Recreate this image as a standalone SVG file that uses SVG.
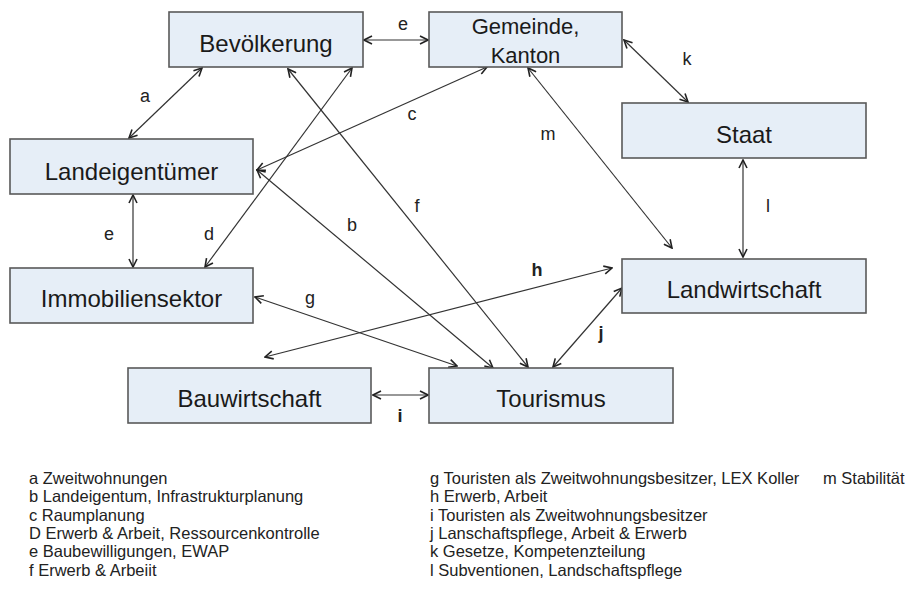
<svg xmlns="http://www.w3.org/2000/svg" width="918" height="596" viewBox="0 0 918 596">
<style>
.box{fill:#e6eef7;stroke:#595959;stroke-width:1.6}
.bt{font-family:"Liberation Sans",Arial,sans-serif;font-size:24px;fill:#1a1a1a;text-anchor:middle}
.gt{font-family:"Liberation Sans",Arial,sans-serif;font-size:22px;fill:#1a1a1a;text-anchor:middle}
.cn{stroke:#333;stroke-width:1.2;fill:none;marker-start:url(#ah);marker-end:url(#ah)}
.lb{font-family:"Liberation Sans",Arial,sans-serif;font-size:18px;fill:#222;text-anchor:middle}
.lbb{font-family:"Liberation Sans",Arial,sans-serif;font-size:18px;fill:#222;text-anchor:middle;font-weight:bold}
.lg{font-family:"Liberation Sans",Arial,sans-serif;font-size:16.5px;fill:#222}
</style>
<defs>
<marker id="ah" viewBox="0 0 10 10" refX="9" refY="5" markerWidth="10" markerHeight="10" orient="auto-start-reverse" markerUnits="userSpaceOnUse">
<path d="M1,1 L9,5 L1,9" fill="none" stroke="#222" stroke-width="1.6"/>
</marker>
</defs>
<rect width="918" height="596" fill="#fff"/>
<g id="connectors">
<line class="cn" x1="364" y1="40" x2="428" y2="40"/>
<line class="cn" x1="202" y1="68" x2="129" y2="138"/>
<line class="cn" x1="288" y1="69" x2="528" y2="367"/>
<line class="cn" x1="352" y1="68" x2="205" y2="267"/>
<line class="cn" x1="487" y1="67" x2="257" y2="170"/>
<line class="cn" x1="257" y1="170" x2="493" y2="368"/>
<line class="cn" x1="255" y1="297" x2="457" y2="366"/>
<line class="cn" x1="612" y1="268" x2="265" y2="357"/>
<line class="cn" x1="373" y1="395" x2="428" y2="395"/>
<line class="cn" x1="553" y1="367" x2="622" y2="288"/>
<line class="cn" x1="624" y1="40" x2="688" y2="102"/>
<line class="cn" x1="743" y1="160" x2="743" y2="257"/>
<line class="cn" x1="528" y1="68" x2="672" y2="248"/>
<line class="cn" x1="133" y1="195" x2="133" y2="267"/>
<text class="lb" x="403" y="30">e</text>
<text class="lb" x="145" y="102">a</text>
<text class="lb" x="412" y="120">c</text>
<text class="lb" x="417" y="212">f</text>
<text class="lb" x="352" y="231">b</text>
<text class="lb" x="209" y="240">d</text>
<text class="lb" x="109" y="240">e</text>
<text class="lb" x="310" y="304">g</text>
<text class="lbb" x="537" y="276">h</text>
<text class="lbb" x="400" y="422">i</text>
<text class="lbb" x="601" y="339">j</text>
<text class="lb" x="687" y="65">k</text>
<text class="lb" x="768" y="212">l</text>
<text class="lb" x="548" y="140">m</text>
</g>
<g id="bevoelkerung"><rect class="box" x="169" y="12" width="194" height="55"/><text class="bt" x="266" y="52">Bevölkerung</text></g>
<g id="gemeinde"><rect class="box" x="429" y="12" width="193" height="55"/><text class="gt" x="525.5" y="34">Gemeinde,</text><text class="gt" x="525.5" y="63">Kanton</text></g>
<g id="staat"><rect class="box" x="622" y="103" width="244" height="55"/><text class="bt" x="744" y="143">Staat</text></g>
<g id="landeigentuemer"><rect class="box" x="10" y="139" width="243" height="55"/><text class="bt" x="131.5" y="180">Landeigentümer</text></g>
<g id="immobiliensektor"><rect class="box" x="10" y="268" width="243" height="55"/><text class="bt" x="131.5" y="307">Immobiliensektor</text></g>
<g id="landwirtschaft"><rect class="box" x="622" y="259" width="244" height="54"/><text class="bt" x="744" y="298">Landwirtschaft</text></g>
<g id="bauwirtschaft"><rect class="box" x="128" y="368" width="243" height="55"/><text class="bt" x="249.5" y="407">Bauwirtschaft</text></g>
<g id="tourismus"><rect class="box" x="429" y="368" width="244" height="55"/><text class="bt" x="551" y="407">Tourismus</text></g>
<g id="legend">
<text class="lg" x="29" y="484">a Zweitwohnungen</text>
<text class="lg" x="29" y="502">b Landeigentum, Infrastrukturplanung</text>
<text class="lg" x="29" y="521">c Raumplanung</text>
<text class="lg" x="29" y="539">D Erwerb &amp; Arbeit, Ressourcenkontrolle</text>
<text class="lg" x="29" y="557">e Baubewilligungen, EWAP</text>
<text class="lg" x="29" y="576">f Erwerb &amp; Arbeiit</text>
<text class="lg" x="430" y="484">g Touristen als Zweitwohnungsbesitzer, LEX Koller</text>
<text class="lg" x="430" y="502">h Erwerb, Arbeit</text>
<text class="lg" x="430" y="521">i Touristen als Zweitwohnungsbesitzer</text>
<text class="lg" x="430" y="539">j Lanschaftspflege, Arbeit &amp; Erwerb</text>
<text class="lg" x="430" y="557">k Gesetze, Kompetenzteilung</text>
<text class="lg" x="430" y="576">l Subventionen, Landschaftspflege</text>
<text class="lg" x="823" y="484">m Stabilität</text>
</g>
</svg>
